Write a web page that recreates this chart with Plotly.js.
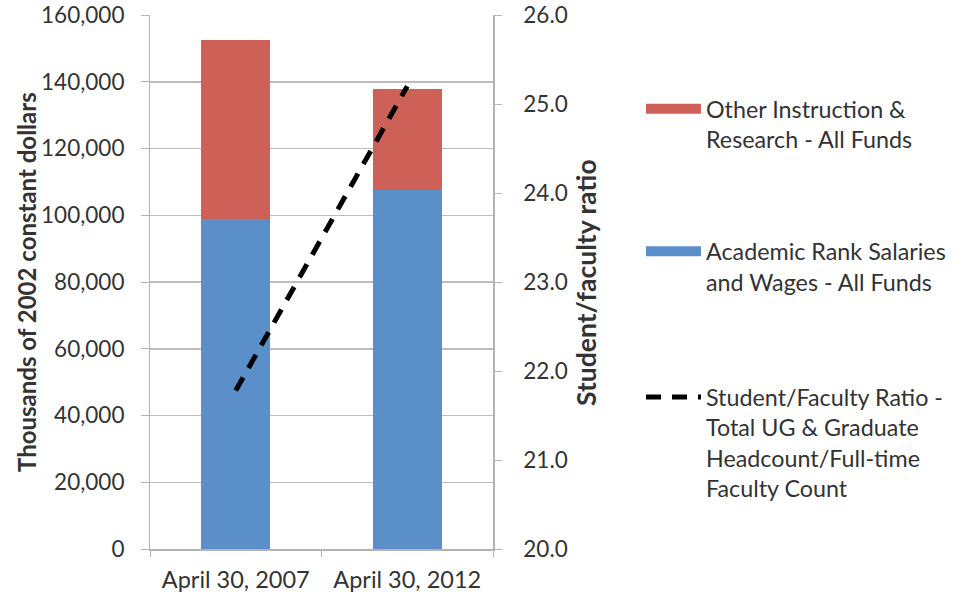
<!DOCTYPE html>
<html>
<head>
<meta charset="utf-8">
<script src="https://cdn.plot.ly/plotly-3.0.1.min.js"></script>
<style>html,body{margin:0;padding:0;background:#fff;}#chart{width:955px;height:598px;}</style>
</head>
<body>
<div id="chart"></div>
<script>
var categories = ['April 30, 2007', 'April 30, 2012'];
var academicSalaries = [98900, 107600];
var otherInstruction = [53600, 30200];
var studentFacultyRatio = [21.78, 25.2];

var nameOther = 'Other Instruction &<br>Research - All Funds';
var nameAcademic = 'Academic Rank Salaries<br>and Wages - All Funds';
var nameRatio = 'Student/Faculty Ratio -<br>Total UG &amp; Graduate<br>Headcount/Full-time<br>Faculty Count';
var leftTitle = 'Thousands of 2002 constant dollars';
var rightTitle = 'Student/faculty ratio';

var FONT = 'Lato, "Open Sans", sans-serif';
var TXT = '#333333';
var RED = '#cd6157';
var BLUE = '#5b8fca';
var NB = '\u00a0';

var traces = [
  {type: 'bar', x: categories, y: academicSalaries, name: nameAcademic,
   marker: {color: BLUE}, showlegend: false, hoverinfo: 'skip'},
  {type: 'bar', x: categories, y: otherInstruction, name: nameOther,
   marker: {color: RED}, showlegend: false, hoverinfo: 'skip'},
  {type: 'scatter', mode: 'lines', x: categories, y: studentFacultyRatio, name: nameRatio,
   yaxis: 'y2', line: {color: '#000000', width: 5, dash: '15px,11px'}, legend: 'legend3', hoverinfo: 'skip'},
  // legend swatches for the stacked bar series
  {type: 'scatter', mode: 'lines', x: [null], y: [null], name: nameOther,
   line: {color: RED, width: 12}, legend: 'legend', hoverinfo: 'skip'},
  {type: 'scatter', mode: 'lines', x: [null], y: [null], name: nameAcademic,
   line: {color: BLUE, width: 12}, legend: 'legend2', hoverinfo: 'skip'}
];

var legBase = {x: 0.6712, xref: 'container', yref: 'container', xanchor: 'left', yanchor: 'top', valign: 'top',
  font: {family: FONT, size: 23.3, color: TXT}, bgcolor: 'rgba(0,0,0,0)', itemwidth: 55};

var layout = {
  width: 955, height: 598,
  margin: {l: 150, r: 462, t: 15, b: 49},
  paper_bgcolor: '#ffffff', plot_bgcolor: '#ffffff',
  font: {family: FONT, size: 23, color: TXT},
  barmode: 'stack', bargap: 0.6,
  showlegend: true,
  legend: Object.assign({}, legBase, {y: 0.8545}),
  legend2: Object.assign({}, legBase, {y: 0.6159}),
  legend3: Object.assign({}, legBase, {y: 0.3722}),
  xaxis: {
    type: 'category', automargin: false, showgrid: false, showline: true, linecolor: '#b3b3b3', linewidth: 1.5,
    ticks: 'outside', tickson: 'boundaries', ticklen: 6, tickcolor: '#b3b3b3',
    ticklabelstandoff: 9,
    tickfont: {family: FONT, size: 23.5, color: TXT}
  },
  yaxis: {
    automargin: false, range: [0, 160000], dtick: 20000, tickformat: ',d', ticksuffix: NB + NB,
    showgrid: true, gridcolor: '#bdbdbd', gridwidth: 1.5,
    showline: true, linecolor: '#b3b3b3', linewidth: 1.5,
    ticks: 'outside', ticklen: 8, tickcolor: '#b3b3b3', zeroline: false,
    tickfont: {family: FONT, size: 22.5, color: TXT}
  },
  yaxis2: {
    automargin: false, overlaying: 'y', side: 'right', range: [20, 26], dtick: 1, tickformat: '.1f',
    tickprefix: NB + NB + NB,
    showgrid: false, showline: true, linecolor: '#b3b3b3', linewidth: 1.5,
    ticks: 'outside', ticklen: 7, tickcolor: '#b3b3b3', zeroline: false,
    tickfont: {family: FONT, size: 22.5, color: TXT}
  },
  annotations: [
    {text: '<b>' + leftTitle + '</b>', xref: 'paper', yref: 'paper', x: -0.3615, y: 0.5,
     xanchor: 'center', yanchor: 'middle', textangle: -90, showarrow: false,
     font: {family: FONT, size: 24, color: TXT}},
    {text: '<b>' + rightTitle + '</b>', xref: 'paper', yref: 'paper', x: 1.2711, y: 0.5,
     xanchor: 'center', yanchor: 'middle', textangle: -90, showarrow: false,
     font: {family: FONT, size: 26.5, color: TXT}}
  ]
};

Plotly.newPlot('chart', traces, layout, {staticPlot: true, displayModeBar: false});
</script>
</body>
</html>
